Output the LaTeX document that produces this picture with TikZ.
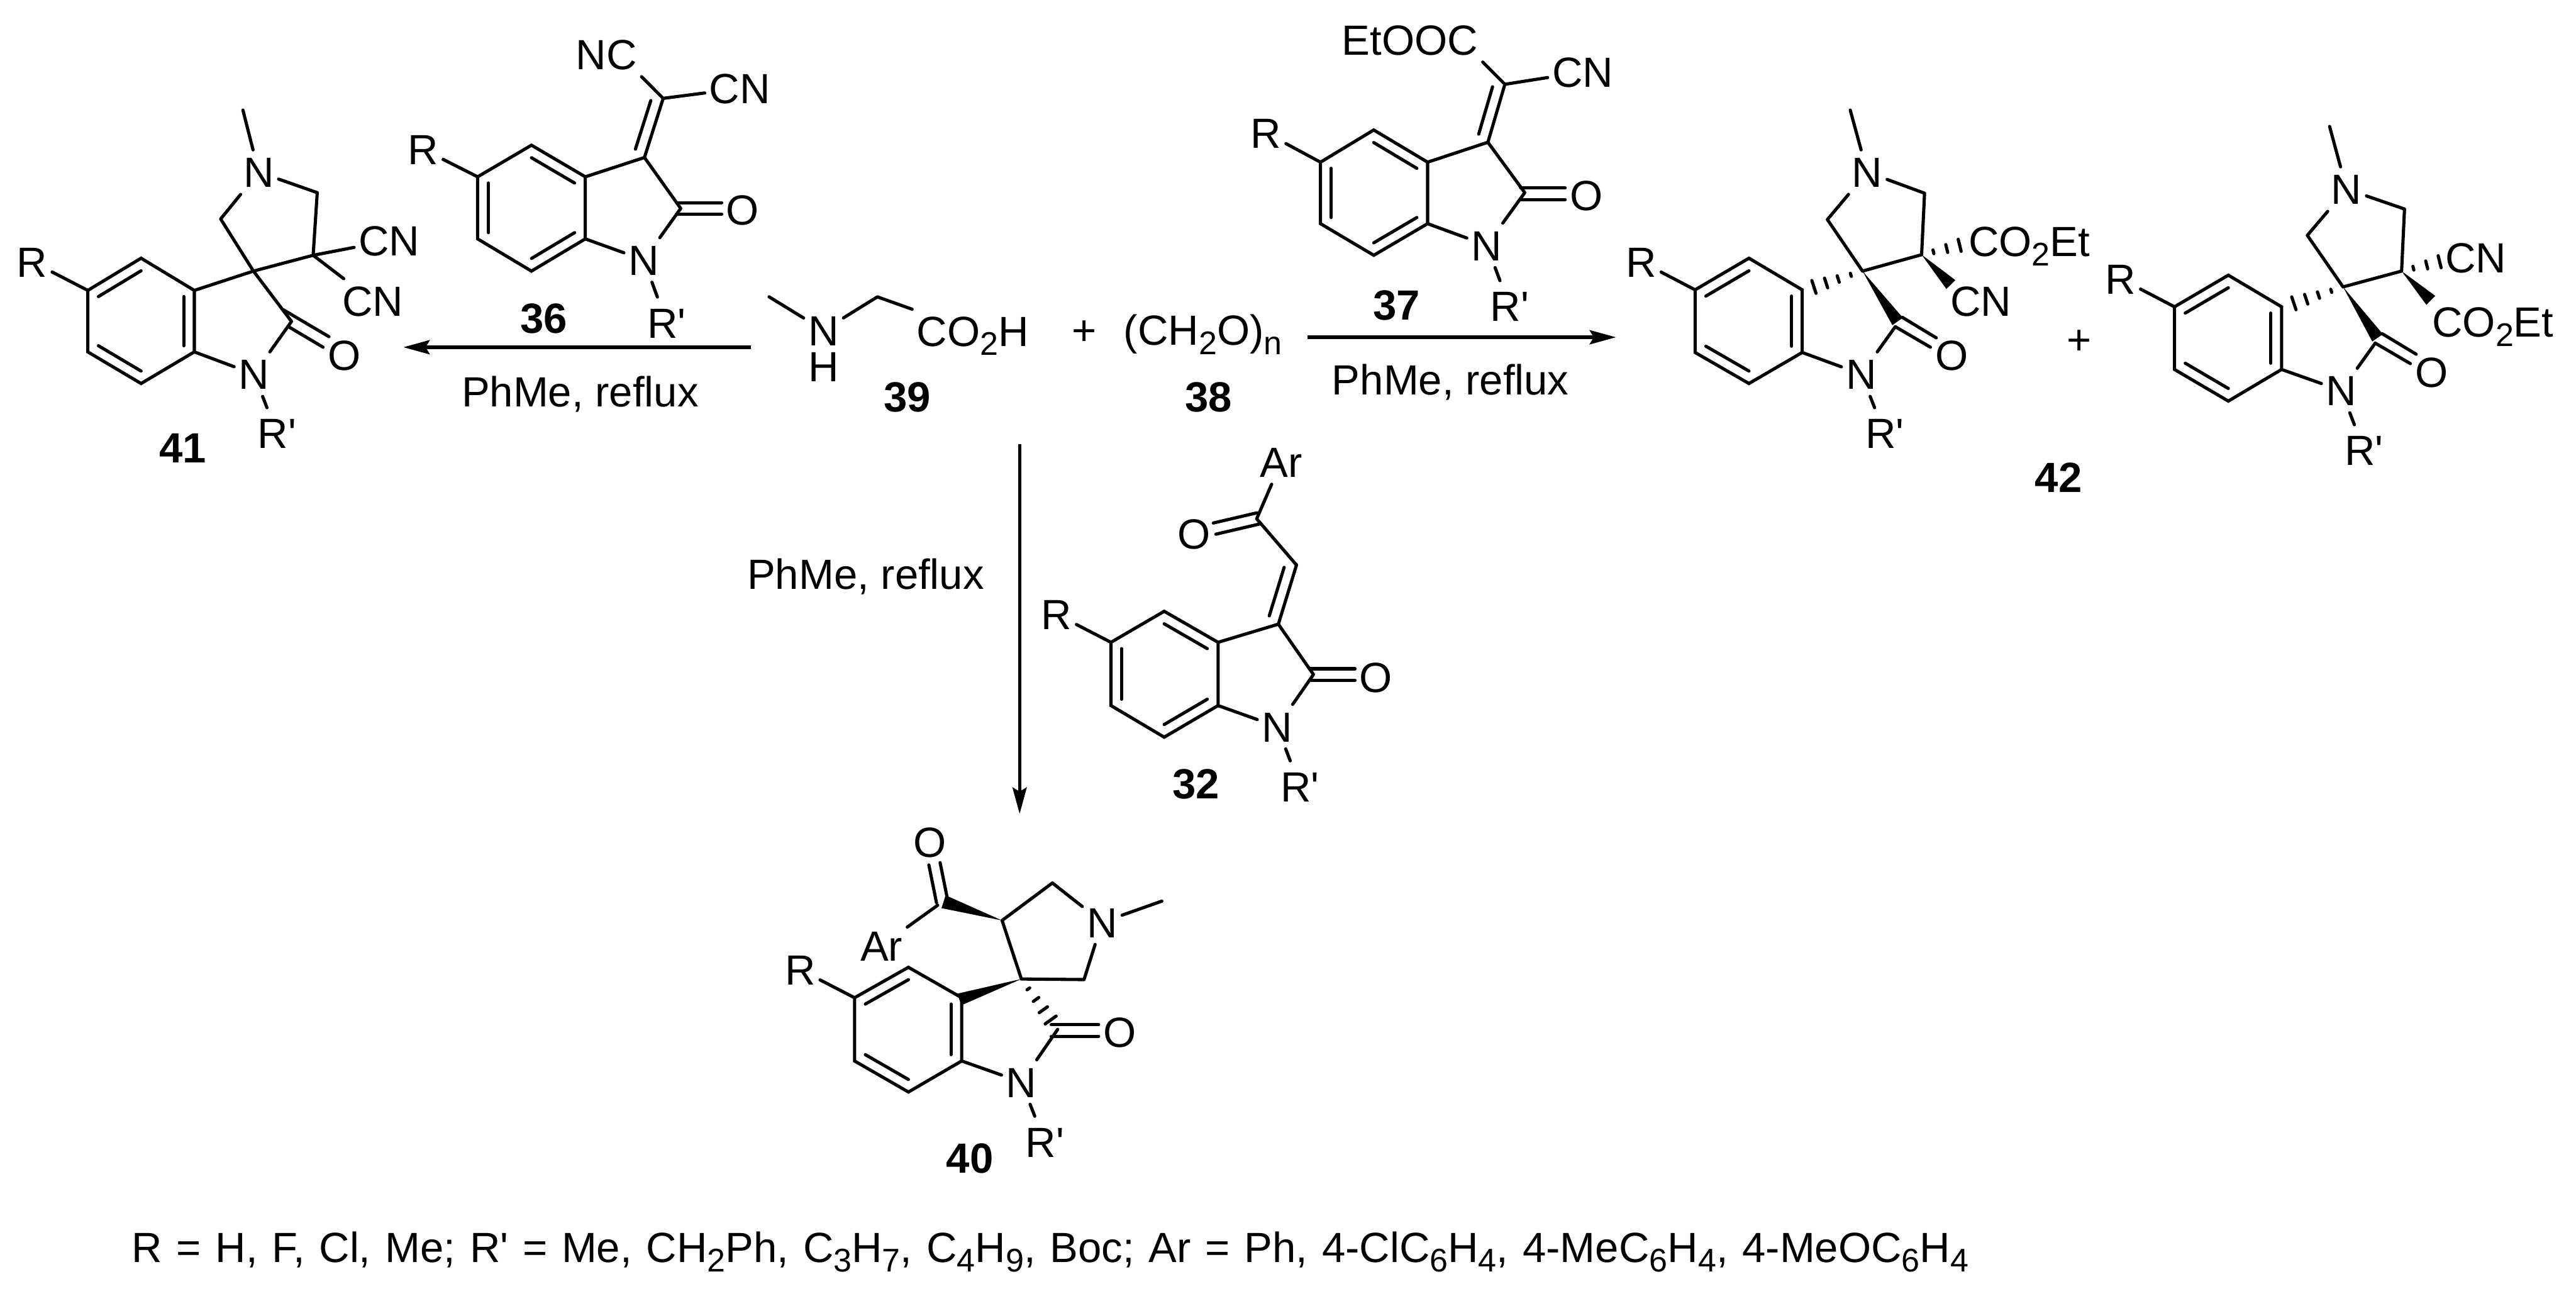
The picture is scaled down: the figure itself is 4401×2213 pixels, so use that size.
\documentclass[tikz,border=0pt]{standalone}
\usepackage{fontspec}
\usetikzlibrary{calc,arrows.meta}
\newfontfamily\chemfont{Liberation Sans}
\newcommand\sbs[1]{\raisebox{-0.16cm}{\fontsize{15.9}{18}\selectfont #1}}
\newcommand\Rp{R'}
% ring: prefix x0 xm x1 y0 y1 y2 y3
\newcommand\ringat[8]{%
  \coordinate (#1a) at (#2,#6); \coordinate (#1b) at (#3,#5);
  \coordinate (#1c) at (#4,#6); \coordinate (#1d) at (#4,#7);
  \coordinate (#1e) at (#3,#8); \coordinate (#1f) at (#2,#7);
  \coordinate (#1z) at (#3,{(#6+#7)/2});
  \draw[line join=miter] (#1a) -- (#1b) -- (#1c) -- (#1d) -- (#1e) -- (#1f) -- cycle;}
\newcommand\inr[3]{\draw ($(#1z)!.8!(#1#2)$) -- ($(#1z)!.8!(#1#3)$);}
% symmetric double bond: from A to B, shortened at B
\newcommand\dbl[3]{%
  \draw[shorten <=-0.03cm,shorten >=#3] ($(#1)!0.098cm!90:(#2)$) -- ($(#2)!0.098cm!-90:(#1)$);
  \draw[shorten <=-0.03cm,shorten >=#3] ($(#1)!0.098cm!-90:(#2)$) -- ($(#2)!0.098cm!90:(#1)$);}
% one-sided double bond
\newcommand\exodbl[2]{%
  \draw (#1) -- (#2);
  \draw[shorten <=0.09cm,shorten >=0.10cm] ($(#1)!0.19cm!90:(#2)$) -- ($(#2)!0.19cm!-90:(#1)$);}
\newcommand\wdg[3]{\fill (#1) -- ($(#2)!#3!90:(#1)$) -- ($(#2)!#3!-90:(#1)$) -- cycle;}
\newcommand\hsh[4]{%
  \foreach \tt in {#4}{%
    \pgfmathsetlengthmacro{\dd}{\tt*#3}%
    \draw ($(#1)!\tt!(#2)!\dd!90:(#1)$) -- ($(#1)!\tt!(#2)!\dd!-90:(#1)$);}}
\tikzset{
  atom/.style={inner xsep=0.08cm,inner ysep=0.12cm,outer sep=0pt,text height=0.52cm,text depth=0pt},
  plain/.style={inner sep=0pt,outer sep=0pt,text height=0.52cm,text depth=0pt},
  cmpd/.style={plain,font=\chemfont\bfseries\fontsize{20.5}{24}\selectfont},
  rxn/.style={line width=1.7pt,line cap=butt,-{Stealth[length=0.45cm,width=0.24cm,inset=0.07cm]}},
  every node/.append style={font=\chemfont\fontsize{20.5}{24}\selectfont}
}
\begin{document}
\begin{tikzpicture}[x=0.01cm,y=-0.01cm,line width=1.55pt,line cap=round]
\path[use as bounding box,fill=white] (0,0) rectangle (4401,2213);

% ---------- 41
\ringat{q}{150}{241}{332}{441}{496}{601}{655}
\inr{q}{a}{b}\inr{q}{c}{d}\inr{q}{e}{f}
\node[atom] (qR) at (55,447) {R};
\node[atom] (qN) at (434,639) {N};
\node[atom] (qNN) at (442,294) {N};
\node[atom] (qCNa) at (665,411) {CN};
\node[atom] (qCNb) at (637,514) {CN};
\node[atom] (qRp) at (473,740) {\Rp};
\node[plain] (qO) at (588,606) {O};
\node[cmpd] (qlab) at (312,764) {41};
\coordinate (qS) at (433,463); \coordinate (qC) at (498,549);
\coordinate (qH) at (377,374); \coordinate (qI) at (542,329);
\coordinate (qF) at (535,436); \coordinate (qM) at (415,188);
\coordinate (qUs) at (484,529); \coordinate (qUe) at (562,575);
\coordinate (qLs) at (493,558); \coordinate (qLe) at (552,593);
\draw (qa) -- (qR) (qc) -- (qS) (qd) -- (qN) (qS) -- (qC) (qC) -- (qN)
      (qS) -- (qH) (qH) -- (qNN) (qNN) -- (qI) (qI) -- (qF) (qF) -- (qS)
      (qF) -- (qCNa) (qF) -- (qCNb) (qNN) -- (qM);
\draw[shorten >=0.06cm] (qN) -- (qRp);
\draw (qUs) -- (qUe) (qLs) -- (qLe);

% ---------- 36
\ringat{r}{816}{908}{1000}{248}{302}{408}{463}
\inr{r}{a}{f}\inr{r}{b}{c}\inr{r}{d}{e}
\node[atom] (rR) at (723,255) {R};
\node[atom] (rN) at (1100,444) {N};
\node[atom] (rNC) at (1036,93) {NC};
\node[atom] (rCN) at (1264,151) {CN};
\node[atom] (rRp) at (1139,551) {\Rp};
\node[plain] (rO) at (1269,358) {O};
\node[cmpd] (rlab) at (929,543) {36};
\coordinate (rT) at (1101,269); \coordinate (rC) at (1163,356); \coordinate (rX) at (1133,168);
\coordinate (rCd) at (1159,356); \coordinate (rOt) at (1233,356);
\draw (ra) -- (rR) (rc) -- (rT) (rd) -- (rN) (rT) -- (rC) (rC) -- (rN)
      (rX) -- (rNC.south east) (rX) -- (rCN);
\draw[shorten >=0.06cm] (rN) -- (rRp);
\exodbl{rT}{rX}
\dbl{rCd}{rOt}{0cm}

% ---------- 39
\node[atom,inner ysep=0.03cm] (sN) at (1407,564) {N};
\node[plain] (sH) at (1407,626) {H};
\node[atom] (sAcid) at (1662,565) {CO\sbs{2}H};
\node[cmpd] (slab) at (1550,677) {39};
\coordinate (sM) at (1314,507); \coordinate (sC) at (1499,507);
\draw (sM) -- (sN) (sN) -- (sC) (sC) -- (sAcid);
\node[plain] (plusA) at (1852,563) {+};
% ---------- 38
\node[plain,anchor=base west,text height=,text depth=] (tform) at (1920,589) {(CH\sbs{2}O)\sbs{n}};
\node[cmpd] (tlab) at (2065,677) {38};

% ---------- 37
\ringat{u}{2256}{2347}{2439}{222}{277}{382}{436}
\inr{u}{a}{f}\inr{u}{b}{c}\inr{u}{d}{e}
\node[atom] (uR) at (2163,227) {R};
\node[atom] (uN) at (2540,419) {N};
\node[atom] (uE) at (2409,68) {EtOOC};
\node[atom] (uCN) at (2704,123) {CN};
\node[atom] (uRp) at (2579,523) {\Rp};
\node[plain] (uO) at (2710,333) {O};
\node[cmpd] (ulab) at (2386,520) {37};
\coordinate (uT) at (2542,243); \coordinate (uC) at (2605,329); \coordinate (uX) at (2571,144);
\coordinate (uCd) at (2601,331); \coordinate (uOt) at (2674,331);
\draw (ua) -- (uR) (uc) -- (uT) (ud) -- (uN) (uT) -- (uC) (uC) -- (uN)
      (uX) -- (uE.south east) (uX) -- (uCN);
\draw[shorten >=0.06cm] (uN) -- (uRp);
\exodbl{uT}{uX}
\dbl{uCd}{uOt}{0cm}

% ---------- 42 (first)
\ringat{v}{2896}{2988}{3079}{441}{495}{602}{655}
\inr{v}{a}{b}\inr{v}{c}{d}\inr{v}{e}{f}
\node[atom] (vR) at (2804,447) {R};
\node[atom] (vN) at (3180,639) {N};
\node[atom] (vNN) at (3190,294) {N};
\node[plain] (vE) at (3467,412) {CO\sbs{2}Et};
\node[plain] (vCN) at (3384,514) {CN};
\node[atom] (vRp) at (3220,740) {\Rp};
\node[plain] (vO) at (3335,606) {O};
\coordinate (vS) at (3182,463); \coordinate (vC) at (3238,558); \coordinate (vCw) at (3242,549);
\coordinate (vH) at (3122,375); \coordinate (vI) at (3288,330);
\coordinate (vF) at (3283,435); \coordinate (vM) at (3161,188);
\coordinate (vWa) at (3099,490); \coordinate (vWb) at (3348,419); \coordinate (vWc) at (3333,486);
\coordinate (vUs) at (3250,542); \coordinate (vUe) at (3308,577);
\coordinate (vLs) at (3238,558); \coordinate (vLe) at (3298,593);
\draw (va) -- (vR) (vd) -- (vN) (vC) -- (vN)
      (vS) -- (vH) (vH) -- (vNN) (vNN) -- (vI) (vI) -- (vF) (vF) -- (vS) (vNN) -- (vM);
\draw[shorten >=0.06cm] (vN) -- (vRp);
\wdg{vS}{vCw}{0.11cm}
\wdg{vF}{vWc}{0.108cm}
\hsh{vS}{vWa}{0.115cm}{.24,.5,.75,1}
\hsh{vF}{vWb}{0.105cm}{.31,.66,1}
\draw (vUs) -- (vUe) (vLs) -- (vLe);

\node[plain] (plusB) at (3552,579) {+};
\node[cmpd] (vlab) at (3517,815) {42};

% ---------- 42 (second)
\ringat{w}{3715}{3807}{3898}{470}{524}{631}{685}
\inr{w}{a}{b}\inr{w}{c}{d}\inr{w}{e}{f}
\node[atom] (wR) at (3623,476) {R};
\node[atom] (wN) at (4000,667) {N};
\node[atom] (wNN) at (4009,323) {N};
\node[plain] (wCN) at (4230,440) {CN};
\node[plain] (wE) at (4259,549) {CO\sbs{2}Et};
\node[atom] (wRp) at (4039,769) {\Rp};
\node[plain] (wO) at (4154,635) {O};
\coordinate (wS) at (4003,490); \coordinate (wC) at (4058,586); \coordinate (wCw) at (4062,577);
\coordinate (wH) at (3942,402); \coordinate (wI) at (4108,357);
\coordinate (wF) at (4103,463); \coordinate (wM) at (3980,216);
\coordinate (wWa) at (3919,518); \coordinate (wWb) at (4168,447); \coordinate (wWc) at (4153,513);
\coordinate (wUs) at (4070,570); \coordinate (wUe) at (4128,605);
\coordinate (wLs) at (4058,586); \coordinate (wLe) at (4118,621);
\draw (wa) -- (wR) (wd) -- (wN) (wC) -- (wN)
      (wS) -- (wH) (wH) -- (wNN) (wNN) -- (wI) (wI) -- (wF) (wF) -- (wS) (wNN) -- (wM);
\draw[shorten >=0.06cm] (wN) -- (wRp);
\wdg{wS}{wCw}{0.11cm}
\wdg{wF}{wWc}{0.108cm}
\hsh{wS}{wWa}{0.115cm}{.24,.5,.75,1}
\hsh{wF}{wWb}{0.105cm}{.31,.66,1}
\draw (wUs) -- (wUe) (wLs) -- (wLe);

% ---------- 32
\ringat{x}{1898}{1989}{2081}{1044}{1097}{1205}{1259}
\inr{x}{a}{f}\inr{x}{b}{c}\inr{x}{d}{e}
\node[atom] (xR) at (1805,1049) {R};
\node[atom] (xN) at (2182,1241) {N};
\node[atom] (xAr) at (2189,789) {Ar};
\node[atom] (xRp) at (2221,1343) {\Rp};
\node[plain] (xO) at (2350,1156) {O};
\node[plain] (xOb) at (2040,911) {O};
\node[cmpd] (xlab) at (2043,1338) {32};
\coordinate (xT) at (2184,1066); \coordinate (xC) at (2244,1152);
\coordinate (xX) at (2215,965); \coordinate (xK) at (2147,886);
\coordinate (xCd) at (2240,1152); \coordinate (xOt) at (2315,1152);
\draw (xa) -- (xR) (xc) -- (xT) (xd) -- (xN) (xT) -- (xC) (xC) -- (xN)
      (xX) -- (xK) (xK) -- (xAr);
\draw[shorten >=0.06cm] (xN) -- (xRp);
\exodbl{xT}{xX}
\dbl{xCd}{xOt}{0cm}
\dbl{xK}{xOb}{0.36cm}

% ---------- 40
\ringat{y}{1460}{1552}{1643}{1652}{1704}{1812}{1865}
\inr{y}{a}{b}\inr{y}{c}{d}\inr{y}{e}{f}
\node[atom] (yR) at (1367,1656) {R};
\node[atom] (yN) at (1745,1848) {N};
\node[atom] (yNN) at (1883,1575) {N};
\node[atom] (yAr) at (1506,1615) {Ar};
\node[atom] (yRp) at (1785,1950) {\Rp};
\node[plain] (yO) at (1913,1762) {O};
\node[plain] (yOb) at (1589,1438) {O};
\node[cmpd] (ylab) at (1657,1977) {40};
\coordinate (yS) at (1745,1672); \coordinate (yF) at (1712,1572);
\coordinate (yH) at (1798,1508); \coordinate (yI) at (1852,1673);
\coordinate (yK) at (1602,1546); \coordinate (yKb) at (1609,1537); \coordinate (yC) at (1807,1758);
\coordinate (yCd) at (1799,1760); \coordinate (yOt) at (1877,1760);
\coordinate (yM) at (1985,1539); \coordinate (yWa) at (1639,1707);
\coordinate (yWb) at (1612,1540); \coordinate (yWc) at (1795,1742);
\draw (ya) -- (yR) (yd) -- (yN) (yC) -- (yN) (yS) -- (yF) (yF) -- (yH) (yH) -- (yNN)
      (yNN) -- (yI) (yI) -- (yS) (yNN) -- (yM) (yK) -- (yAr);
\draw[shorten >=0.06cm] (yN) -- (yRp);
\wdg{yS}{yWa}{0.105cm}
\wdg{yF}{yWb}{0.115cm}
\hsh{yS}{yWc}{0.115cm}{.24,.5,.75,1}
\dbl{yCd}{yOt}{0cm}
\dbl{yKb}{yOb}{0.38cm}

% ---------- arrows
\coordinate (arLs) at (1283,593); \coordinate (arLe) at (689,593);
\coordinate (arRs) at (2234,576); \coordinate (arRe) at (2761,576);
\coordinate (arDs) at (1742,759); \coordinate (arDe) at (1742,1390);
\draw[rxn] (arLs) -- (arLe);
\draw[rxn] (arRs) -- (arRe);
\draw[rxn] (arDs) -- (arDe);
\node[plain] (condL) at (991,669) {PhMe, reflux};
\node[plain] (condR) at (2478,648) {PhMe, reflux};
\node[plain] (condD) at (1479,980) {PhMe, reflux};

% ---------- footnote
\node[inner sep=0pt,outer sep=0pt,anchor=base west] (foot) at (225,2156)
  {\spaceskip=0.34em R = H, F, Cl, Me; R' = Me, CH\sbs{2}Ph, C\sbs{3}H\sbs{7}, C\sbs{4}H\sbs{9}, Boc; Ar = Ph, 4-ClC\sbs{6}H\sbs{4}, 4-MeC\sbs{6}H\sbs{4}, 4-MeOC\sbs{6}H\sbs{4}};
\end{tikzpicture}
\end{document}
